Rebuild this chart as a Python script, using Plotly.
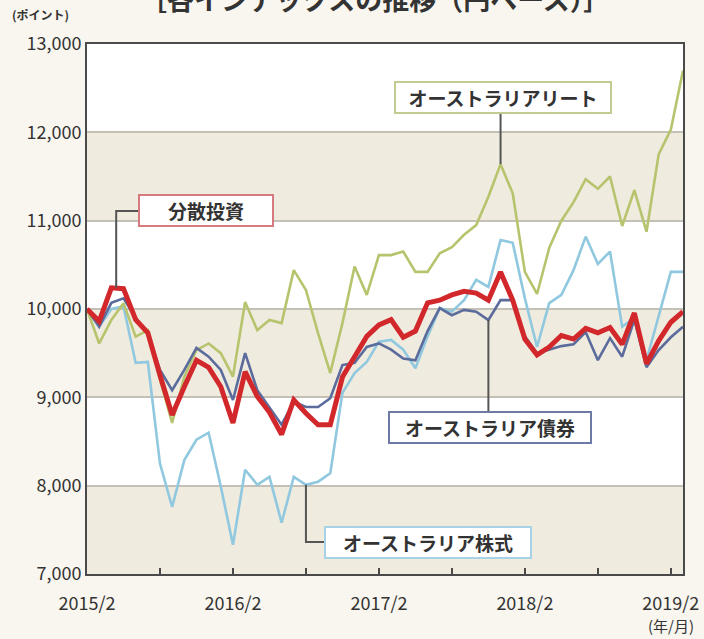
import plotly.graph_objects as go

# ---- data (monthly, 2015/2 .. 2019/3) ----
months = list(range(50))
tick_vals = [0, 6, 12, 18, 24, 30, 36, 42, 48]
tick_text = ["2015/2", "", "2016/2", "", "2017/2", "", "2018/2", "", "2019/2"]
y_ticks = [7000, 8000, 9000, 10000, 11000, 12000, 13000]

bunsan = [10000, 9860, 10240, 10230, 9880, 9730, 9250, 8800, 9120, 9420,
          9340, 9120, 8710, 9290, 9010, 8830, 8580, 8970, 8820, 8690,
          8690, 9230, 9460, 9690, 9820, 9880, 9680, 9750, 10070, 10100,
          10160, 10200, 10180, 10100, 10420, 10100, 9660, 9480, 9570, 9700,
          9660, 9780, 9730, 9790, 9600, 9955, 9380, 9640, 9850, 9970]

saiken = [10000, 9800, 10070, 10120, 9900, 9730, 9310, 9080, 9310, 9560,
          9460, 9310, 8970, 9500, 9080, 8890, 8690, 8950, 8890, 8890,
          8990, 9365, 9390, 9570, 9610, 9540, 9440, 9420, 9750, 10010,
          9930, 9990, 9970, 9875, 10100, 10100, 9690, 9500, 9540, 9580,
          9600, 9740, 9420, 9670, 9460, 9880, 9340, 9535, 9680, 9800]

kabushiki = [10000, 9800, 10000, 10030, 9390, 9400, 8250, 7760, 8290, 8520,
             8600, 7990, 7330, 8180, 8010, 8100, 7580, 8100, 8010, 8045,
             8140, 9050, 9275, 9400, 9630, 9650, 9540, 9330, 9690, 10010,
             9970, 10100, 10330, 10250, 10780, 10750, 10120, 9570, 10066, 10160,
             10440, 10820, 10510, 10650, 9800, 9900, 9420, 9915, 10420, 10420]

reit = [10000, 9610, 9875, 10066, 9687, 9760, 9200, 8710, 9234, 9535,
        9610, 9500, 9234, 10080, 9760, 9875, 9840, 10440, 10215, 9725,
        9275, 9840, 10480, 10160, 10610, 10610, 10650, 10420, 10420, 10630,
        10700, 10840, 10950, 11270, 11640, 11310, 10420, 10170, 10690, 11000,
        11210, 11470, 11360, 11500, 10940, 11345, 10875, 11750, 12030, 12700]

C_RED = "#d2282c"
C_BLUE = "#5b6c9c"
C_LIGHT = "#90c8df"
C_GREEN = "#b7c46d"
BAND = "#efebdf"
PAPER = "#f8f6ee"
FRAME = "#4a4a4a"
FONT = "Noto Sans CJK JP"

fig = go.Figure()
fig.add_trace(go.Scatter(x=months, y=kabushiki, mode="lines", name="オーストラリア株式",
                         line=dict(color=C_LIGHT, width=2.6)))
fig.add_trace(go.Scatter(x=months, y=reit, mode="lines", name="オーストラリアリート",
                         line=dict(color=C_GREEN, width=2.6)))
fig.add_trace(go.Scatter(x=months, y=saiken, mode="lines", name="オーストラリア債券",
                         line=dict(color=C_BLUE, width=2.6)))
fig.add_trace(go.Scatter(x=months, y=bunsan, mode="lines", name="分散投資",
                         line=dict(color=C_RED, width=5)))

# beige bands
for lo, hi in [(7000, 8000), (9000, 10000), (11000, 12000)]:
    fig.add_shape(type="rect", xref="paper", yref="y", x0=0, x1=1, y0=lo, y1=hi,
                  fillcolor=BAND, line=dict(width=0), layer="below")

# callout leader lines
lead = dict(color="#555555", width=2)
fig.add_shape(type="path", xref="x", yref="y", layer="above",
              path=f"M 2.4,{bunsan[2]} L 2.4,11110 L 5,11110", line=lead)
fig.add_shape(type="line", xref="x", yref="y", layer="above",
              x0=34, x1=34, y0=reit[34], y1=12400, line=lead)
fig.add_shape(type="line", xref="x", yref="y", layer="above",
              x0=33, x1=33, y0=saiken[33], y1=8660, line=lead)
fig.add_shape(type="path", xref="x", yref="y", layer="above",
              path=f"M 18,{kabushiki[18]} L 18,7362 L 21,7362", line=lead)

lab_font = dict(family=FONT, size=19, color="#333333", weight=700)
def callout(text, x, y, border, w):
    fig.add_annotation(x=x, y=y, xref="x", yref="y", text=text, showarrow=False,
                       font=lab_font, bgcolor="white", bordercolor=border,
                       borderwidth=2, borderpad=3, width=w, height=23)

callout("分散投資", 9.8, 11110, "#d77a80", 126)
callout("オーストラリアリート", 34.2, 12400, "#c4cb92", 208)
callout("オーストラリア債券", 33.1, 8660, "#6e7aa6", 194)
callout("オーストラリア株式", 28.0, 7362, "#a8d2e5", 198)

# texts around the axes
fig.add_annotation(x=-0.13, y=1.035, xref="paper", yref="paper", xanchor="left",
                   yanchor="bottom", text="(ポイント)", showarrow=False,
                   font=dict(family=FONT, size=12, color="#333333", weight=700))
fig.add_annotation(x=48, y=-0.074, xref="x", yref="paper", xanchor="center",
                   yanchor="top", text="(年/月)", showarrow=False,
                   font=dict(family=FONT, size=15, color="#333333"))
fig.add_annotation(x=0.483, y=1.086, xref="paper", yref="paper", xanchor="center",
                   yanchor="middle", text="［各インデックスの推移（円ベース）］",
                   showarrow=False,
                   font=dict(family=FONT, size=27, color="#333333", weight=700))

fig.update_xaxes(range=[0, 49], tickvals=tick_vals, ticktext=tick_text,
                 showgrid=False, zeroline=False, automargin=False,
                 showline=True, mirror=True, linecolor=FRAME, linewidth=2,
                 ticks="inside", ticklen=6, tickwidth=2, tickcolor=FRAME,
                 ticklabelstandoff=12,
                 tickfont=dict(family=FONT, size=18, color="#333333"))
fig.update_yaxes(range=[7000, 13000], tickvals=y_ticks, tickformat=",",
                 showgrid=True, gridcolor="#c4c0b6", gridwidth=2, zeroline=False,
                 showline=True, mirror=True, linecolor=FRAME, linewidth=2,
                 automargin=False,
                 ticks="", tickfont=dict(family=FONT, size=18, color="#333333"))

fig.update_layout(width=704, height=639, showlegend=False,
                  paper_bgcolor=PAPER, plot_bgcolor="white",
                  margin=dict(l=87, r=21, t=44, b=65))

fig.write_html("out.html", config={"displayModeBar": False},
               post_script="document.body.style.margin='0';"
                           "document.body.style.background='" + PAPER + "';")
